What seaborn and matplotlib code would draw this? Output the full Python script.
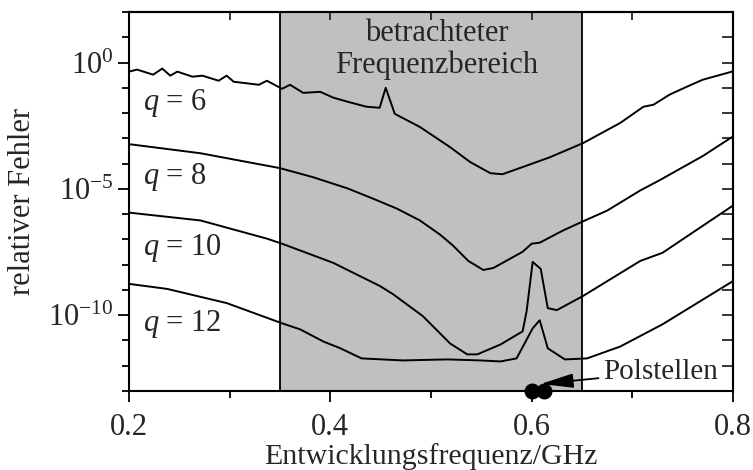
import numpy as np
import pandas as pd
import matplotlib
matplotlib.use("Agg")
import matplotlib.pyplot as plt
import seaborn as sns

# ---- data (log10 of relative error) ----
q6_f = [0.200, 0.208, 0.224, 0.233, 0.241, 0.248, 0.263, 0.273, 0.289, 0.297, 0.304,
        0.329, 0.337, 0.352, 0.360, 0.373, 0.390, 0.403, 0.417, 0.436, 0.449, 0.455,
        0.464, 0.489, 0.519, 0.539, 0.559, 0.571, 0.588, 0.618, 0.651, 0.688, 0.711,
        0.721, 0.737, 0.754, 0.770, 0.799]
q6_log = [-0.36, -0.28, -0.48, -0.24, -0.52, -0.36, -0.56, -0.52, -0.72, -0.52, -0.76,
          -0.88, -0.72, -1.04, -0.88, -1.20, -1.16, -1.39, -1.55, -1.75, -1.79, -1.00,
          -2.03, -2.55, -3.35, -3.94, -4.38, -4.42, -4.18, -3.75, -3.19, -2.39, -1.75,
          -1.67, -1.27, -0.96, -0.68, -0.36]

q8_f = [0.200, 0.271, 0.350, 0.383, 0.417, 0.442, 0.466, 0.489, 0.509, 0.522, 0.537,
        0.542, 0.552, 0.562, 0.591, 0.600, 0.608, 0.631, 0.653, 0.675, 0.708, 0.727,
        0.770, 0.799]
q8_log = [-3.23, -3.59, -4.18, -4.54, -4.98, -5.38, -5.78, -6.25, -6.81, -7.25, -7.85,
          -7.97, -8.21, -8.13, -7.49, -7.17, -7.13, -6.65, -6.25, -5.86, -5.06, -4.66,
          -3.70, -2.95]

q10_f = [0.200, 0.271, 0.337, 0.352, 0.403, 0.449, 0.462, 0.492, 0.519, 0.536, 0.546,
         0.569, 0.591, 0.595, 0.601, 0.609, 0.616, 0.625, 0.651, 0.708, 0.730, 0.800]
q10_log = [-5.94, -6.25, -6.97, -7.17, -7.93, -8.84, -9.16, -10.04, -11.12, -11.55, -11.55,
           -11.16, -10.64, -9.84, -7.89, -8.17, -9.72, -9.80, -9.24, -7.85, -7.53, -5.66]

q12_f = [0.200, 0.238, 0.297, 0.352, 0.370, 0.393, 0.410, 0.431, 0.472, 0.516, 0.549,
         0.569, 0.585, 0.601, 0.608, 0.616, 0.633, 0.655, 0.688, 0.730, 0.800]
q12_log = [-8.76, -8.96, -9.52, -10.32, -10.56, -11.04, -11.31, -11.71, -11.79, -11.75,
           -11.79, -11.83, -11.71, -10.52, -10.20, -11.31, -11.75, -11.71, -11.24, -10.36,
           -8.65]

curve_labels = ["q = 6", "q = 8", "q = 10", "q = 12"]
label_log = [-1.6, -4.55, -7.35, -10.35]
poles_f = [0.600, 0.612]
band = [0.35, 0.65]

x_ticks = [0.2, 0.4, 0.6, 0.8]
x_tick_labels = ["0.2", "0.4", "0.6", "0.8"]

# ---- build table ----
frames = []
for name, f, lg in zip(curve_labels, [q6_f, q8_f, q10_f, q12_f],
                       [q6_log, q8_log, q10_log, q12_log]):
    frames.append(pd.DataFrame({"f": f, "err": np.power(10.0, lg), "q": name}))
df = pd.concat(frames, ignore_index=True)

sns.set_style("ticks")
plt.rcParams["font.family"] = ["Liberation Serif", "DejaVu Serif"]
plt.rcParams["mathtext.fontset"] = "custom"
plt.rcParams["mathtext.rm"] = "Liberation Serif"
plt.rcParams["mathtext.it"] = "Liberation Serif:italic"
plt.rcParams["mathtext.bf"] = "Liberation Serif:bold"

fig = plt.figure(figsize=(7.53, 4.70), dpi=100)
ax = fig.add_axes([129 / 753, 1 - 391 / 470, (733 - 129) / 753, (391 - 12) / 470])

ax.axvspan(band[0], band[1], facecolor="#c0c0c0", edgecolor="black", lw=1.3, zorder=0)

sns.lineplot(data=df, x="f", y="err", units="q", estimator=None, color="black",
             lw=1.4, sort=False, ax=ax, legend=False, zorder=3)

ax.set_yscale("log")
ax.set_xlim(0.2, 0.8)
ax.set_ylim(1e-13, 1e2)

FS = 22
ax.set_xticks(x_ticks)
ax.set_xticklabels(x_tick_labels, fontsize=FS)
ax.set_xticks([0.3, 0.5, 0.7], minor=True)
ax.set_yticks([1e-10, 1e-5, 1e0])
ax.set_yticklabels([r"$\mathregular{10^{-10}}$", r"$\mathregular{10^{-5}}$",
                    r"$\mathregular{10^{0}}$"], fontsize=FS)
ax.set_yticks([10.0 ** k for k in range(-13, 3) if k not in (-10, -5, 0)], minor=True)
ax.yaxis.set_minor_formatter(matplotlib.ticker.NullFormatter())
ax.tick_params(axis="both", which="major", direction="out", length=8, width=1.3,
               color="black", pad=3)
ax.tick_params(axis="x", which="major", pad=8)
ax.tick_params(axis="both", which="minor", direction="out", length=5, width=1.3,
               color="black")
ax.tick_params(top=False, right=False)

# inward ticks on top and right
ax_top = ax.secondary_xaxis("top")
ax_top.set_xticks([0.3, 0.4, 0.5, 0.6, 0.7])
ax_top.tick_params(direction="in", length=6, width=1.3, labeltop=False)
ax_top.spines["top"].set_linewidth(1.5)
ax_right = ax.secondary_yaxis("right")
ax_right.set_yticks([10.0 ** k for k in range(-13, 3)])
ax_right.yaxis.set_minor_locator(matplotlib.ticker.NullLocator())
ax_right.tick_params(direction="in", length=8, width=1.3, labelright=False)
ax_right.spines["right"].set_linewidth(1.5)

for s in ax.spines.values():
    s.set_linewidth(1.5)
    s.set_color("black")

ax.set_xlabel("Entwicklungsfrequenz/GHz", fontsize=21.5)
ax.set_ylabel("relativer Fehler", fontsize=FS)
ax.xaxis.set_label_coords(0.5, -0.137)
ax.yaxis.set_label_coords(-0.152, 0.5)

for lab, lg in zip(curve_labels, label_log):
    num = lab.split("=")[1].strip()
    ax.text(0.214, 10.0 ** lg, r"$q$ = " + num, fontsize=FS, ha="left", va="center")

ax.text(0.506, 10.0 ** 0.5, "betrachteter\nFrequenzbereich", fontsize=FS,
        ha="center", va="center", linespacing=1.12)

ax.scatter(poles_f, [1e-13, 1e-13], s=110, color="black", zorder=5, clip_on=False)
ax.annotate("Polstellen", xy=(0.609, 10.0 ** -12.72), xytext=(0.671, 10.0 ** -12.25),
            fontsize=21, ha="left", va="center",
            arrowprops=dict(arrowstyle="-|>,head_length=1.0,head_width=0.22",
                            mutation_scale=20, color="black", lw=1.3,
                            shrinkA=1, shrinkB=0))

fig.savefig("out.png", dpi=100)
